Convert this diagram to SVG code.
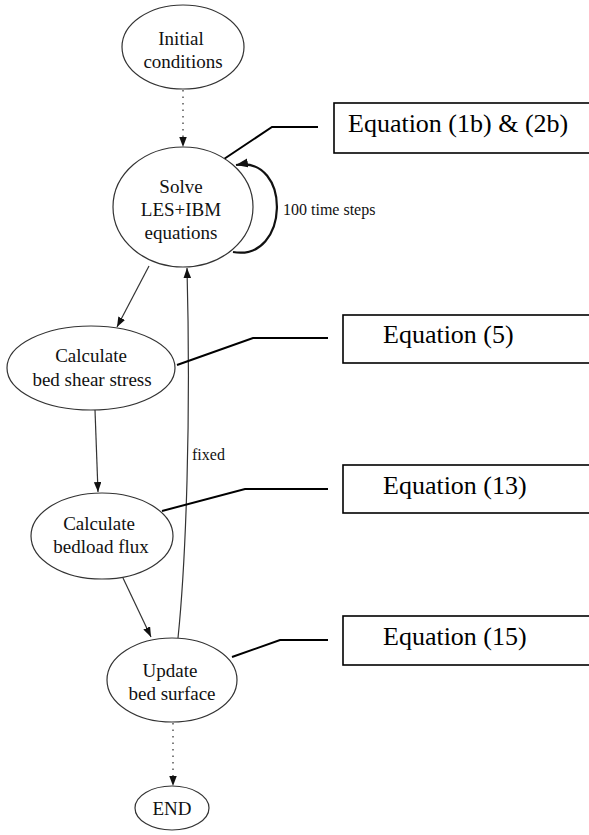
<svg xmlns="http://www.w3.org/2000/svg" width="589" height="835" viewBox="0 0 589 835">
<style>
.node ellipse{fill:#fff;stroke:#333;stroke-width:1.2}
.nt{font-family:"Liberation Serif","Times New Roman",serif;font-size:19px;fill:#111;text-anchor:middle}
.edge{fill:none;stroke:#333;stroke-width:1.2}
.dot{fill:none;stroke:#555;stroke-width:1.5;stroke-dasharray:1.5,5}
.loop{fill:none;stroke:#111;stroke-width:2.2}
.lead{fill:none;stroke:#000;stroke-width:2}
.box{fill:#fff;stroke:#000;stroke-width:1.6}
.bt{font-family:"Liberation Serif","Times New Roman",serif;font-size:26px;fill:#000}
.lbl{font-family:"Liberation Serif","Times New Roman",serif;font-size:16px;fill:#111}
</style>
<defs>
<marker id="ah" markerUnits="userSpaceOnUse" markerWidth="11" markerHeight="8" refX="10" refY="3.75" orient="auto">
<path d="M0,0 L10,3.75 L0,7.5 z" fill="#111"/>
</marker>
<marker id="ahb" markerUnits="userSpaceOnUse" markerWidth="13" markerHeight="10" refX="12" refY="4.5" orient="auto">
<path d="M0,0 L12,4.5 L0,9 z" fill="#111"/>
</marker>
</defs>
<g id="connectors">
<path class="dot" d="M183,90 L183,147" marker-end="url(#ah)"/>
<path class="loop" d="M233,252 C290,262 292,155 236,165" marker-end="url(#ahb)"/>
<path class="edge" d="M149,266 L117,327" marker-end="url(#ah)"/>
<path class="edge" d="M95,410 L98,492" marker-end="url(#ah)"/>
<path class="edge" d="M123,578 L151,637" marker-end="url(#ah)"/>
<path class="edge" d="M178,638 C186,560 191,420 187,268" marker-end="url(#ah)"/>
<path class="dot" d="M173,723 L173,786" marker-end="url(#ah)"/>
<path class="lead" d="M224,159 L272,127 L318,127"/>
<path class="lead" d="M177,365 L253,338 L328,338"/>
<path class="lead" d="M162,511 L245,489 L328,489"/>
<path class="lead" d="M232,657 L280,640 L328,640"/>
<text class="lbl" x="283" y="215">100 time steps</text>
<text class="lbl" x="192" y="460">fixed</text>
</g>
<g id="n-initial" class="node">
<ellipse cx="183" cy="47" rx="61" ry="42"/>
<text class="nt" x="181" y="45">Initial</text>
<text class="nt" x="183" y="68">conditions</text>
</g>
<g id="n-solve" class="node">
<ellipse cx="183" cy="207" rx="70" ry="60"/>
<text class="nt" x="181" y="193">Solve</text>
<text class="nt" x="181" y="216">LES+IBM</text>
<text class="nt" x="181" y="239">equations</text>
</g>
<g id="n-shear" class="node">
<ellipse cx="91" cy="368" rx="84" ry="42"/>
<text class="nt" x="91" y="362">Calculate</text>
<text class="nt" x="92" y="386">bed shear stress</text>
</g>
<g id="n-flux" class="node">
<ellipse cx="102" cy="536" rx="71" ry="43"/>
<text class="nt" x="99" y="530">Calculate</text>
<text class="nt" x="101" y="553">bedload flux</text>
</g>
<g id="n-update" class="node">
<ellipse cx="172" cy="680" rx="65" ry="42"/>
<text class="nt" x="170" y="677">Update</text>
<text class="nt" x="172" y="700">bed surface</text>
</g>
<g id="n-end" class="node">
<ellipse cx="172" cy="808" rx="37" ry="22"/>
<text class="nt" x="172" y="815">END</text>
</g>
<g id="b-eq1">
<rect class="box" x="334" y="103" width="262" height="50"/>
<text class="bt" x="348" y="132">Equation (1b) &amp; (2b)</text>
</g>
<g id="b-eq5">
<rect class="box" x="343" y="315" width="253" height="48"/>
<text class="bt" x="383" y="343">Equation (5)</text>
</g>
<g id="b-eq13">
<rect class="box" x="343" y="465" width="253" height="48"/>
<text class="bt" x="383" y="494">Equation (13)</text>
</g>
<g id="b-eq15">
<rect class="box" x="343" y="616" width="253" height="49"/>
<text class="bt" x="383" y="645">Equation (15)</text>
</g>
</svg>
